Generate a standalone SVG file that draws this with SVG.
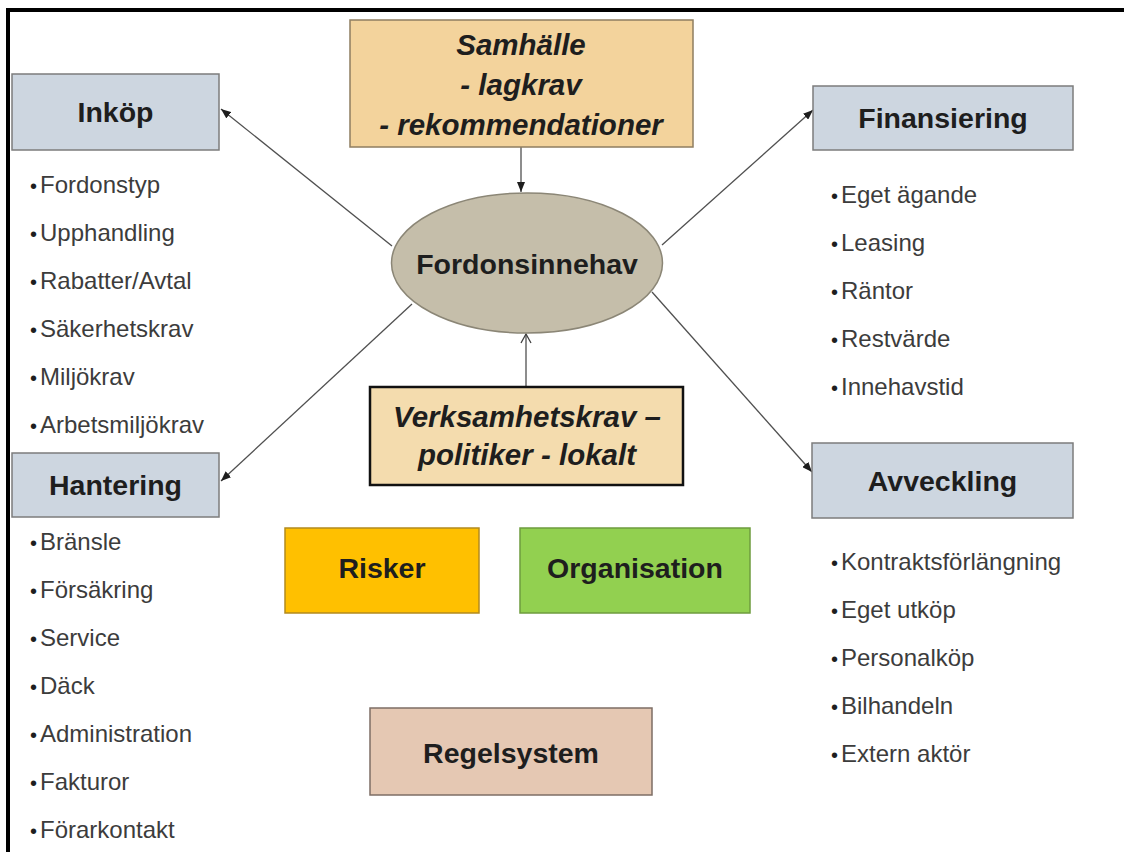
<svg xmlns="http://www.w3.org/2000/svg" width="1124" height="852" viewBox="0 0 1124 852">
  <style>
    .box { stroke-width: 1.5; }
    .cat { fill: #cdd6e0; stroke: #7c7c7c; }
    .head { font-family: "Liberation Sans", Arial, sans-serif; font-weight: bold; font-size: 28.5px; fill: #1e1e1e; text-anchor: middle; }
    .ital { font-family: "Liberation Sans", Arial, sans-serif; font-weight: bold; font-style: italic; font-size: 29.5px; fill: #1e1e1e; text-anchor: middle; }
    .item { font-family: "Liberation Sans", Arial, sans-serif; font-size: 24px; fill: #3c3c3c; }
    .dot { font-size: 20px; fill: #1e1e1e; }
    .link { fill: none; stroke: #505050; stroke-width: 1.3; }
  </style>
  <defs>
    <marker id="arrow" markerUnits="userSpaceOnUse" markerWidth="10" markerHeight="8" refX="10" refY="4" orient="auto">
      <path d="M0,0 L10,4 L0,8 z" fill="#1e1e1e"/>
    </marker>
    <marker id="open" markerUnits="userSpaceOnUse" markerWidth="11" markerHeight="12" refX="10" refY="6" orient="auto">
      <path d="M1,1 L10,6 L1,11" fill="none" stroke="#404040" stroke-width="1.3"/>
    </marker>
  </defs>

  <rect width="1124" height="852" fill="#ffffff"/>
  <!-- frame along the top and left edges -->
  <path d="M8,852 V10 H1124" fill="none" stroke="#000000" stroke-width="4"/>

  <g id="connectors">
    <path class="link" d="M521,147 V192" marker-end="url(#arrow)"/>
    <path class="link" d="M526,387 V334" marker-end="url(#open)"/>
    <path class="link" d="M392,246 L221,109" marker-end="url(#arrow)"/>
    <path class="link" d="M412,304 L221,481" marker-end="url(#arrow)"/>
    <path class="link" d="M662,245 L813,110" marker-end="url(#arrow)"/>
    <path class="link" d="M652,292 L812,472" marker-end="url(#arrow)"/>
  </g>

  <g id="samhalle">
    <rect class="box" x="350" y="20" width="343" height="127" fill="#f3d39c" stroke="#8f7e60"/>
    <text class="ital" x="521" y="55">Samhälle</text>
    <text class="ital" x="521" y="95">- lagkrav</text>
    <text class="ital" x="521" y="135">- rekommendationer</text>
  </g>

  <g id="fordonsinnehav">
    <ellipse cx="527" cy="263" rx="135.5" ry="70" fill="#c5beaa" stroke="#8b8676" stroke-width="1.5"/>
    <text class="head" x="527" y="274">Fordonsinnehav</text>
  </g>

  <g id="verksamhetskrav">
    <rect x="370" y="387" width="313" height="98" fill="#f4dcae" stroke="#111111" stroke-width="2.5"/>
    <text class="ital" x="527" y="427">Verksamhetskrav –</text>
    <text class="ital" x="527" y="465">politiker - lokalt</text>
  </g>

  <g id="inkop">
    <rect class="box cat" x="12" y="74" width="207" height="76"/>
    <text class="head" x="115.5" y="122">Inköp</text>
    <text class="item" y="193"><tspan class="dot" x="30">•</tspan><tspan x="40">Fordonstyp</tspan></text>
    <text class="item" y="241"><tspan class="dot" x="30">•</tspan><tspan x="40">Upphandling</tspan></text>
    <text class="item" y="289"><tspan class="dot" x="30">•</tspan><tspan x="40">Rabatter/Avtal</tspan></text>
    <text class="item" y="337"><tspan class="dot" x="30">•</tspan><tspan x="40">Säkerhetskrav</tspan></text>
    <text class="item" y="385"><tspan class="dot" x="30">•</tspan><tspan x="40">Miljökrav</tspan></text>
    <text class="item" y="433"><tspan class="dot" x="30">•</tspan><tspan x="40">Arbetsmiljökrav</tspan></text>
  </g>

  <g id="hantering">
    <rect class="box cat" x="12" y="453" width="207" height="64"/>
    <text class="head" x="115.5" y="495">Hantering</text>
    <text class="item" y="550"><tspan class="dot" x="30">•</tspan><tspan x="40">Bränsle</tspan></text>
    <text class="item" y="598"><tspan class="dot" x="30">•</tspan><tspan x="40">Försäkring</tspan></text>
    <text class="item" y="646"><tspan class="dot" x="30">•</tspan><tspan x="40">Service</tspan></text>
    <text class="item" y="694"><tspan class="dot" x="30">•</tspan><tspan x="40">Däck</tspan></text>
    <text class="item" y="742"><tspan class="dot" x="30">•</tspan><tspan x="40">Administration</tspan></text>
    <text class="item" y="790"><tspan class="dot" x="30">•</tspan><tspan x="40">Fakturor</tspan></text>
    <text class="item" y="838"><tspan class="dot" x="30">•</tspan><tspan x="40">Förarkontakt</tspan></text>
  </g>

  <g id="finansiering">
    <rect class="box cat" x="813" y="86" width="260" height="64"/>
    <text class="head" x="943" y="128">Finansiering</text>
    <text class="item" y="203"><tspan class="dot" x="831">•</tspan><tspan x="841">Eget ägande</tspan></text>
    <text class="item" y="251"><tspan class="dot" x="831">•</tspan><tspan x="841">Leasing</tspan></text>
    <text class="item" y="299"><tspan class="dot" x="831">•</tspan><tspan x="841">Räntor</tspan></text>
    <text class="item" y="347"><tspan class="dot" x="831">•</tspan><tspan x="841">Restvärde</tspan></text>
    <text class="item" y="395"><tspan class="dot" x="831">•</tspan><tspan x="841">Innehavstid</tspan></text>
  </g>

  <g id="avveckling">
    <rect class="box cat" x="812" y="443" width="261" height="75"/>
    <text class="head" x="942.5" y="491">Avveckling</text>
    <text class="item" y="570"><tspan class="dot" x="831">•</tspan><tspan x="841">Kontraktsförlängning</tspan></text>
    <text class="item" y="618"><tspan class="dot" x="831">•</tspan><tspan x="841">Eget utköp</tspan></text>
    <text class="item" y="666"><tspan class="dot" x="831">•</tspan><tspan x="841">Personalköp</tspan></text>
    <text class="item" y="714"><tspan class="dot" x="831">•</tspan><tspan x="841">Bilhandeln</tspan></text>
    <text class="item" y="762"><tspan class="dot" x="831">•</tspan><tspan x="841">Extern aktör</tspan></text>
  </g>

  <g id="risker">
    <rect class="box" x="285" y="528" width="194" height="85" fill="#ffc000" stroke="#b38a1e"/>
    <text class="head" x="382" y="578">Risker</text>
  </g>

  <g id="organisation">
    <rect class="box" x="520" y="528" width="230" height="85" fill="#92d050" stroke="#6e9c3e"/>
    <text class="head" x="635" y="578">Organisation</text>
  </g>

  <g id="regelsystem">
    <rect class="box" x="370" y="708" width="282" height="87" fill="#e5c8b3" stroke="#7d6e65"/>
    <text class="head" x="511" y="763">Regelsystem</text>
  </g>
</svg>
